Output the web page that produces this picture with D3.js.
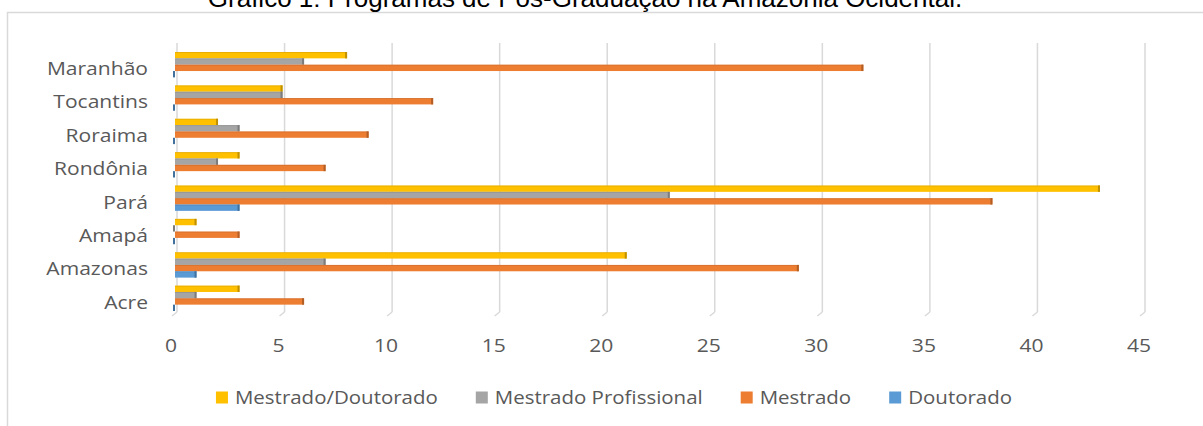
<!DOCTYPE html>
<html>
<head>
<meta charset="utf-8">
<script src="https://cdn.jsdelivr.net/npm/d3@7"></script>
<style>
    html, body { margin: 0; padding: 0; background: #fff; overflow: hidden; }
</style>
</head>
<body>
<div id="chart-container"></div>
<script>
const categories = ["Maranhão", "Tocantins", "Roraima", "Rondônia", "Pará", "Amapá", "Amazonas", "Acre"];
const seriesNames = ["Mestrado/Doutorado", "Mestrado Profissional", "Mestrado", "Doutorado"];
const mestradoDoutorado = [8, 5, 2, 3, 43, 1, 21, 3];
const mestradoProfissional = [6, 5, 3, 2, 23, 0, 7, 1];
const mestrado = [32, 12, 9, 7, 38, 3, 29, 6];
const doutorado = [0, 0, 0, 0, 3, 0, 1, 0];
const xTicks = [0, 5, 10, 15, 20, 25, 30, 35, 40, 45];
const title = "Gráfico 1: Programas de Pós-Graduação na Amazônia Ocidental.";

const width = 1203;
const height = 426;
const textFont = "'Open Sans', sans-serif";
const stretch = 1.17; // the source image is stretched sideways
const textColor = "#595959";
const gridColor = "#d9d9d9";

const seriesValues = [mestradoDoutorado, mestradoProfissional, mestrado, doutorado];
const colors = ["#FFC000", "#A5A5A5", "#ED7D31", "#5B9BD5"];
const sideColors = ["#BF9000", "#7C7C7C", "#B25E25", "#41719C"];

const data = [];
categories.forEach((c, i) => {
    seriesNames.forEach((s, j) => {
        data.push({ category: c, series: s, value: seriesValues[j][i], idx: j });
    });
});

const svg = d3.select("#chart-container")
    .append("svg")
    .attr("width", width)
    .attr("height", height);

// chart frame (runs off the right and bottom of the picture)
svg.append("rect")
    .attr("x", 7.5)
    .attr("y", 12.5)
    .attr("width", 1400)
    .attr("height", 600)
    .attr("fill", "none")
    .attr("stroke", gridColor)
    .attr("stroke-width", 1.5);

// title, cut off at the top
svg.append("text")
    .attr("x", 585)
    .attr("y", 7)
    .attr("text-anchor", "middle")
    .style("font-family", "'Liberation Sans', Arial, sans-serif")
    .style("font-size", "26px")
    .attr("fill", "#000")
    .text(title);

const x = d3.scaleLinear()
    .domain([0, 45])
    .range([177, 1145]);

const y = d3.scaleBand()
    .domain(categories)
    .range([46, 317])
    .paddingInner(0.24)
    .paddingOuter(0.18);

const ySeries = d3.scaleBand()
    .domain(seriesNames)
    .range([0, y.bandwidth()])
    .padding(0);

const wallTop = 43;
const wallBottom = 312;
const barShift = -2; // bars sit in front of the back wall

// gridlines on the back wall, with a small foot onto the floor
const grid = svg.append("g");
grid.selectAll("line.grid")
    .data(xTicks)
    .enter()
    .append("line")
    .attr("class", "grid")
    .attr("x1", d => x(d))
    .attr("x2", d => x(d))
    .attr("y1", wallTop)
    .attr("y2", wallBottom)
    .attr("stroke", gridColor)
    .attr("stroke-width", 1.5);
grid.selectAll("line.foot")
    .data(xTicks)
    .enter()
    .append("line")
    .attr("class", "foot")
    .attr("x1", d => x(d))
    .attr("x2", d => x(d) - 5)
    .attr("y1", wallBottom)
    .attr("y2", wallBottom + 4)
    .attr("stroke", gridColor)
    .attr("stroke-width", 1.5);

// bars
const bars = svg.append("g");
const barGroups = bars.selectAll("g.bar")
    .data(data)
    .enter()
    .append("g")
    .attr("class", "bar");

barGroups.append("rect")
    .attr("x", x(0) + barShift)
    .attr("y", d => y(d.category) + ySeries(d.series))
    .attr("width", d => Math.max(0, x(d.value) - x(0)))
    .attr("height", ySeries.bandwidth())
    .attr("fill", d => colors[d.idx]);

// top face
barGroups.append("rect")
    .attr("x", x(0) + barShift)
    .attr("y", d => y(d.category) + ySeries(d.series))
    .attr("width", d => Math.max(0, x(d.value) - x(0)))
    .attr("height", 1)
    .attr("fill", d => sideColors[d.idx])
    .attr("opacity", 0.35);

// side face
barGroups.append("rect")
    .attr("x", d => x(d.value) + barShift - 2)
    .attr("y", d => y(d.category) + ySeries(d.series))
    .attr("width", 2)
    .attr("height", ySeries.bandwidth())
    .attr("fill", d => sideColors[d.idx]);

// category labels
svg.append("g")
    .selectAll("text")
    .data(categories)
    .enter()
    .append("text")
    .attr("transform", d => `translate(148,${y(d) + 23}) scale(${stretch},1)`)
    .attr("text-anchor", "end")
    .style("font-family", textFont)
    .style("font-size", "18px")
    .attr("fill", textColor)
    .text(d => d);

// value axis labels
svg.append("g")
    .selectAll("text")
    .data(xTicks)
    .enter()
    .append("text")
    .attr("transform", d => `translate(${x(d) - 6},351.5) scale(${stretch},1)`)
    .attr("text-anchor", "middle")
    .style("font-family", textFont)
    .style("font-size", "18px")
    .attr("fill", textColor)
    .text(d => d);

// legend
const legend = svg.append("g");
const legendY = 404;
const sq = 12;
const items = [];
seriesNames.forEach((s, i) => {
    const g = legend.append("g");
    g.append("rect")
        .attr("x", 0)
        .attr("y", legendY - 12.5)
        .attr("width", sq)
        .attr("height", sq)
        .attr("fill", colors[i]);
    const t = g.append("text")
        .attr("transform", `translate(${sq + 7},${legendY}) scale(${stretch},1)`)
        .style("font-family", textFont)
        .style("font-size", "17.5px")
        .attr("fill", textColor)
        .text(s);
    const w = sq + 7 + t.node().getComputedTextLength() * stretch;
    items.push({ g, w });
});
const legendGap = 38;
const total = d3.sum(items, d => d.w) + legendGap * (items.length - 1);
let legendX = 614 - total / 2;
items.forEach(it => {
    it.g.attr("transform", `translate(${legendX},0)`);
    legendX += it.w + legendGap;
});
</script>
</body>
</html>
